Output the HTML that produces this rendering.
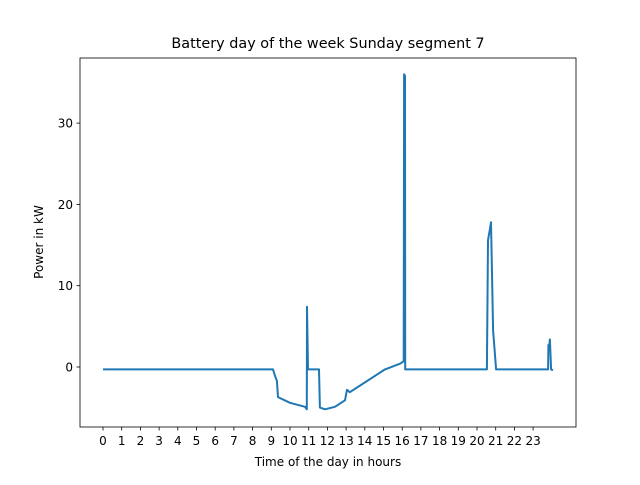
<!DOCTYPE html>
<html><head><meta charset="utf-8"><style>
body{margin:0;background:#fff}
text{font-family:"DejaVu Sans","Liberation Sans",sans-serif;fill:#000}
</style></head><body>
<svg id="chart" width="640" height="480" xmlns="http://www.w3.org/2000/svg">
<rect width="640" height="480" fill="#fff"/>
<text x="328" y="48" font-size="14.4" text-anchor="middle">Battery day of the week Sunday segment 7</text>
<g id="xt"></g><g id="yt"></g>
<path id="line" fill="none" stroke="#1f77b4" stroke-width="2" stroke-linejoin="round"/>
<rect x="80" y="58" width="496" height="369" fill="none" stroke="#000" stroke-width="0.8"/>
<text x="328" y="466" font-size="12" text-anchor="middle">Time of the day in hours</text>
<text x="43" y="242" font-size="12" text-anchor="middle" transform="rotate(-90 43 242)">Power in kW</text>
</svg>
<script>
const hours=[0,3,6,9.09,9.2,9.3,9.36,10.0,10.8,10.9,10.91,10.96,11.55,11.6,11.87,12.4,12.94,13.05,13.2,15.08,15.88,16.08,16.1,16.15,16.16,18,20.53,20.59,20.7,20.75,20.86,21.02,23,23.8,23.82,23.85,23.9,23.96,24.06];
const power=[-0.3,-0.3,-0.3,-0.3,-1.1,-1.7,-3.7,-4.4,-4.9,-5.2,7.4,-0.3,-0.3,-5.0,-5.2,-4.9,-4.1,-2.8,-3.1,-0.3,0.4,0.7,36,35.8,-0.3,-0.3,-0.3,15.6,17.1,17.8,4.5,-0.3,-0.3,-0.3,2.7,2.2,3.4,-0.3,-0.4];
const xTicks=[0,1,2,3,4,5,6,7,8,9,10,11,12,13,14,15,16,17,18,19,20,21,22,23];
const yTicks=[0,10,20,30];
const X=h=>103+(h-0)*18.7;
const Y=v=>367-v*8.13;
const NS="http://www.w3.org/2000/svg";
let d="";
for(let i=0;i<hours.length;i++)d+=(i?"L":"M")+X(hours[i]).toFixed(1)+" "+Y(power[i]).toFixed(1);
document.getElementById("line").setAttribute("d",d);
const xt=document.getElementById("xt");
xTicks.forEach(t=>{
  const l=document.createElementNS(NS,"line");
  
  
  l.setAttribute("x1",X(t));l.setAttribute("x2",X(t));l.setAttribute("y1",427);l.setAttribute("y2",430.5);l.setAttribute("stroke","#000");l.setAttribute("stroke-width","0.8");
  xt.appendChild(l);
  const s=document.createElementNS(NS,"text");
  
  
  s.setAttribute("x",X(t));s.setAttribute("y",445);s.setAttribute("font-size","12");s.setAttribute("text-anchor","middle");
  s.textContent=t;xt.appendChild(s);
});
const yt=document.getElementById("yt");
yTicks.forEach(t=>{
  const l=document.createElementNS(NS,"line");
  
  
  l.setAttribute("x1",76.5);l.setAttribute("x2",80);l.setAttribute("y1",Y(t));l.setAttribute("y2",Y(t));l.setAttribute("stroke","#000");l.setAttribute("stroke-width","0.8");
  yt.appendChild(l);
  const s=document.createElementNS(NS,"text");
  
  
  s.setAttribute("x",73);s.setAttribute("y",Y(t)+4.5);s.setAttribute("font-size","12");s.setAttribute("text-anchor","end");
  s.textContent=t;yt.appendChild(s);
});
</script>
</body></html>
